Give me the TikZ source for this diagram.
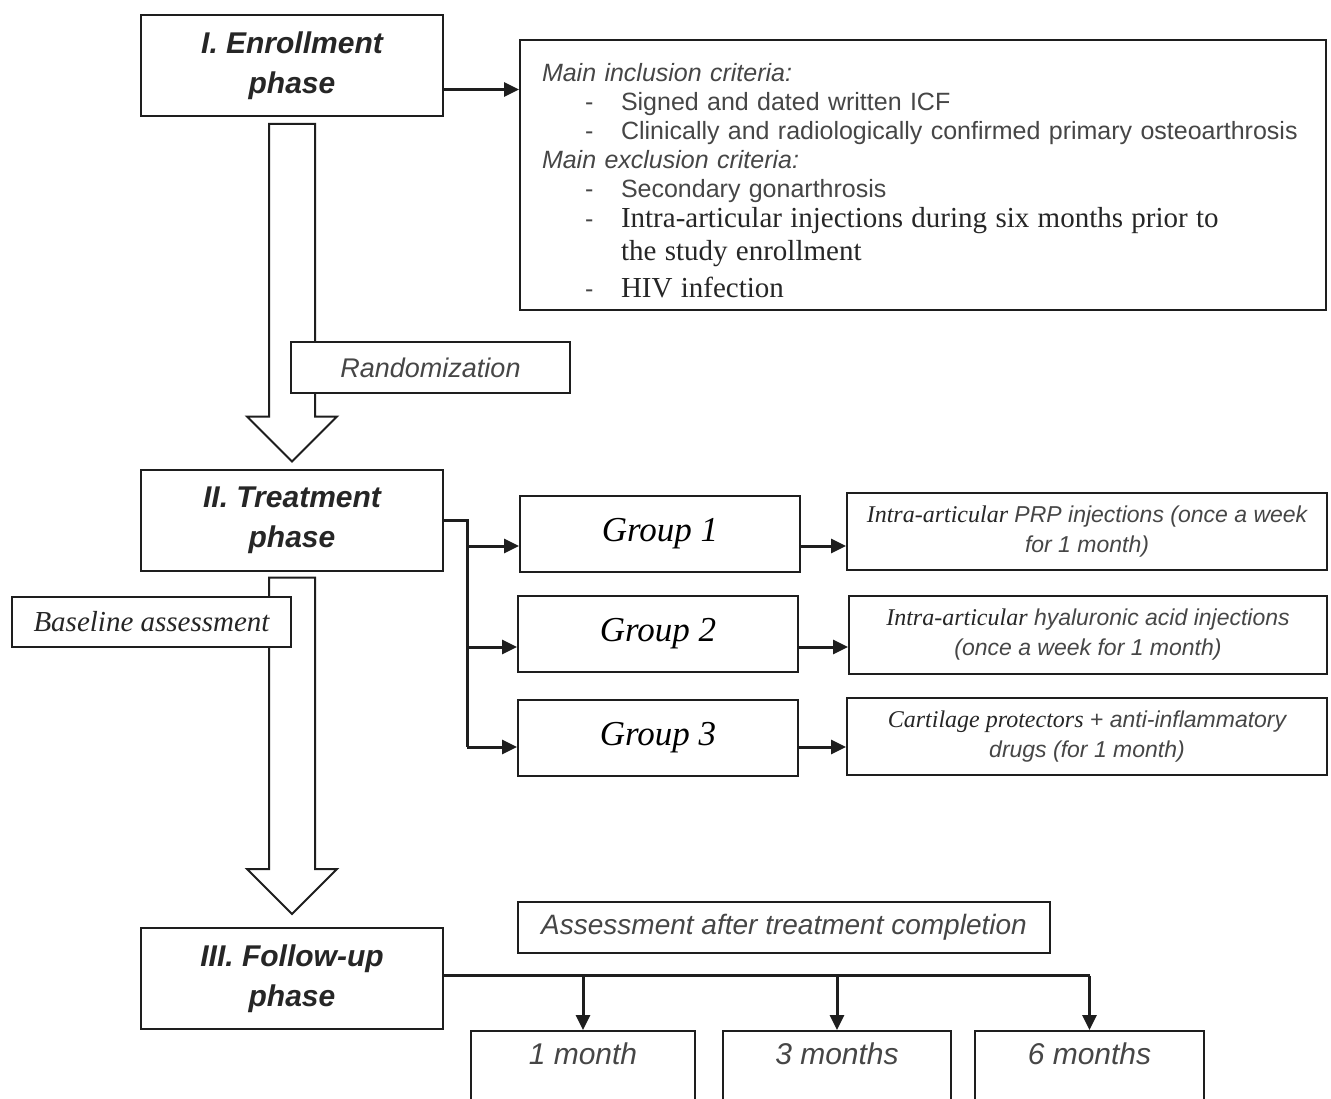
\documentclass[tikz,border=0pt]{standalone}
\usepackage{fontspec}
\setmainfont{Liberation Serif}
\setsansfont{Liberation Sans}
\usepackage{xcolor}
\usetikzlibrary{arrows.meta, positioning, calc}
\definecolor{flowline}{RGB}{30,30,30}
\definecolor{flowgray}{RGB}{70,70,70}
\newcommand{\serifit}[1]{{\rmfamily\itshape\color{black!85}\fontsize{24}{30}\selectfont#1}}
\newcommand{\critdash}{\hspace*{43pt}\makebox[36pt][l]{-}}

\begin{document}
\begin{tikzpicture}[x=1pt, y=-1pt,
    phase/.style={draw=flowline, line width=2pt, minimum width=302pt,
                  minimum height=101pt, align=center, text=black!85,
                  font=\sffamily\bfseries\itshape\fontsize{30}{40}\selectfont},
    box/.style={draw=flowline, line width=2pt, inner sep=0pt},
    note/.style={box, fill=white, text=flowgray,
                 font=\sffamily\itshape\fontsize{27}{30}\selectfont},
    grp/.style={box, minimum width=280pt, minimum height=76pt,
                font=\itshape\fontsize{35}{40}\selectfont},
    desc/.style={box, minimum width=480pt, minimum height=77pt, align=center,
                 text=flowgray, font=\sffamily\itshape\fontsize{23}{30}\selectfont},
    month/.style={box, anchor=north, inner ysep=12pt, text depth=80pt,
                  text=flowgray, font=\sffamily\itshape\fontsize{30}{32}\selectfont},
    arr/.style={-{Triangle[length=15pt, width=14pt]}, line width=3pt, flowline},
    link/.style={line width=3pt, flowline},
    hollow/.style={draw=flowline, line width=2pt, fill=white, line join=miter}
  ]
  \path[use as bounding box, clip] (0,0) rectangle (1331,1099);
  \fill[white] (0,0) rectangle (1331,1099);

  % phases
  \node[phase] (enroll) at (292,65.5) {I. Enrollment\\phase};
  \node[phase] (treat)  at (292,520)  {II. Treatment\\phase};
  \node[phase] (fu)     at (292,978.5) {III. Follow-up\\phase};

  % criteria
  \node[box, minimum width=806pt, minimum height=270pt, text width=762pt,
        inner xsep=22pt, align=left, text=flowgray,
        font=\sffamily\fontsize{25}{29}\selectfont] (crit) at (923,175) {%
    \rule{0pt}{30pt}{\itshape Main inclusion criteria:}\\
    \critdash Signed and dated written ICF\\
    \mbox{\critdash Clinically and radiologically confirmed primary osteoarthrosis}\\
    {\itshape Main exclusion criteria:}\\
    \critdash Secondary gonarthrosis\\[1pt]
    \critdash{\rmfamily\color{black!85}\fontsize{29}{33}\selectfont Intra-articular injections during six months prior to}\\[4pt]
    \hspace*{79pt}{\rmfamily\color{black!85}\fontsize{29}{33}\selectfont the study enrollment}\\[8pt]
    \critdash{\rmfamily\color{black!85}\fontsize{29}{33}\selectfont HIV infection}};

  \coordinate (out1) at ([yshift=-24pt]enroll.east);
  \draw[arr] (out1) -- (out1 -| crit.west);

  % big arrows
  \draw[hollow] ($(enroll.south)+(-23,7)$) -- ($(enroll.south)+(23,7)$)
    -- ($(treat.north)+(23,-52)$) -- ($(treat.north)+(45,-52)$)
    -- ($(treat.north)+(0,-7)$) -- ($(treat.north)+(-45,-52)$)
    -- ($(treat.north)+(-23,-52)$) -- cycle;
  \draw[hollow] ($(treat.south)+(-23,6)$) -- ($(treat.south)+(23,6)$)
    -- ($(fu.north)+(23,-58)$) -- ($(fu.north)+(45,-58)$)
    -- ($(fu.north)+(0,-13)$) -- ($(fu.north)+(-45,-58)$)
    -- ($(fu.north)+(-23,-58)$) -- cycle;

  \node[note, minimum width=279pt, minimum height=51pt] (rand) at (430.5,367.5) {Randomization};
  \node[note, minimum width=279pt, minimum height=50pt, text=black!85,
        font=\rmfamily\itshape\fontsize{29}{30}\selectfont] (base) at (151.5,622) {Baseline assessment};

  % groups
  \node[grp] (g1) at (660,534) {Group 1};
  \node[grp] (g2) at (658,634) {Group 2};
  \node[grp] (g3) at (658,738) {Group 3};

  \node[desc] (d1) at (1087,531.5) {\serifit{Intra-articular} PRP injections (once a week\\for 1 month)};
  \node[desc, minimum width=478pt, minimum height=78pt] (d2) at (1088,635) {\serifit{Intra-articular} hyaluronic acid injections\\(once a week for 1 month)};
  \node[desc] (d3) at (1087,736.5) {\serifit{Cartilage protectors} + anti-inflammatory\\drugs (for 1 month)};

  \coordinate (fork) at ([xshift=23pt]treat.east);
  \coordinate (in1) at ([yshift=-12pt]g1.west);
  \coordinate (in2) at ([yshift=-13pt]g2.west);
  \coordinate (in3) at ([yshift=-9pt]g3.west);
  \draw[link] (treat.east) -- (fork) -- (fork |- in3);
  \foreach \i in {1,2,3} {
    \draw[arr] (fork |- in\i) -- (in\i);
    \draw[arr] (in\i -| g\i.east) -- (in\i -| d\i.west);
  }

  % follow-up
  \node[note, minimum width=532pt, minimum height=51pt,
        font=\sffamily\itshape\fontsize{28}{30}\selectfont] (after) at (784,927.5) {Assessment after treatment completion};
  \node[month, minimum width=224pt] (m1) at (583,1030)    {1 month};
  \node[month, minimum width=228pt] (m3) at (837,1030)    {3 months};
  \node[month, minimum width=229pt] (m6) at (1089.5,1030) {6 months};

  \coordinate (bus) at ([yshift=3pt]fu.east);
  \draw[link] (bus) -- (bus -| m6.north);
  \foreach \m in {m1,m3,m6}
    \draw[arr] (bus -| \m.north) -- (\m.north);
\end{tikzpicture}
\end{document}
